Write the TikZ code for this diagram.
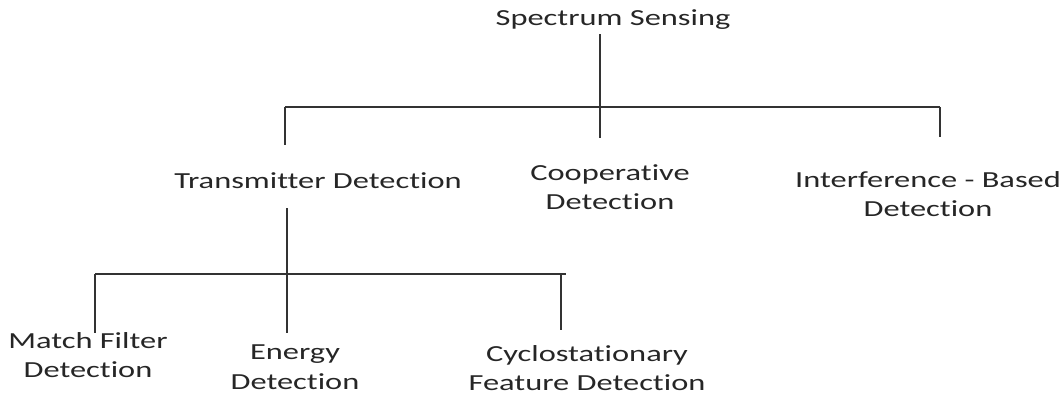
\documentclass[tikz,border=0pt]{standalone}
\usepackage{fontspec}
\setmainfont[Ligatures=NoCommon,FakeStretch=1.41]{Carlito}
\begin{document}
\begin{tikzpicture}[x=1pt,y=-1pt,
  lbl/.style={font=\fontsize{23}{29.5}\selectfont, align=center, inner sep=0pt, text=black!85},
  conn/.style={line width=1.6pt, draw=black!80}]
\useasboundingbox (0,0) rectangle (1063,394);
\node[lbl] (root) at (613,20) {Spectrum Sensing};
\node[lbl] (tx) at (318,181) {Transmitter Detection};
\node[lbl] (coop) at (610,187) {Cooperative\\Detection};
\node[lbl] (intf) at (928,194) {Interference - Based\\Detection};
\node[lbl] (mf) at (88,355) {Match Filter\\Detection};
\node[lbl] (en) at (295,367) {Energy\\Detection};
\node[lbl] (cy) at (587,368) {Cyclostationary\\Feature Detection};
% top level connectors
\coordinate (r0) at (600,34);
\coordinate (r1) at (600,138);
\coordinate (hl) at (285,107);
\coordinate (hr) at (940,107);
\coordinate (t1) at (285,145);
\coordinate (i1) at (940,137);
\draw[conn] (r0) -- (r1);
\draw[conn] (hl) -- (hr);
\draw[conn] (hl) -- (t1);
\draw[conn] (hr) -- (i1);
% second level
\coordinate (s0) at (287,208);
\coordinate (s1) at (287,333);
\coordinate (gl) at (95,274);
\coordinate (gr) at (566,274);
\coordinate (m1) at (95,333);
\coordinate (c0) at (561,274);
\coordinate (c1) at (561,330);
\draw[conn] (s0) -- (s1);
\draw[conn] (gl) -- (gr);
\draw[conn] (gl) -- (m1);
\draw[conn] (c0) -- (c1);
\end{tikzpicture}
\end{document}
